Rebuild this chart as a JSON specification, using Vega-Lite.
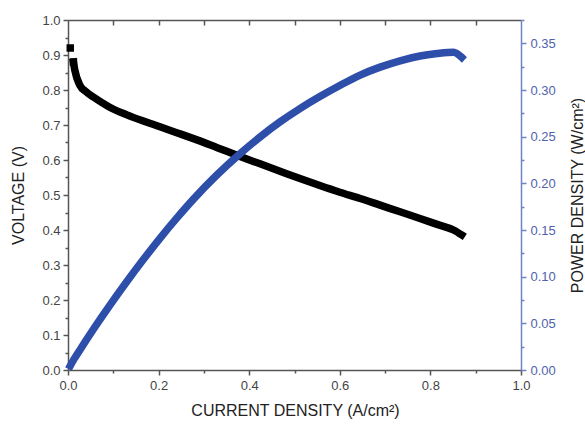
{
  "$schema": "https://vega.github.io/schema/vega-lite/v6.json",
  "width": 453,
  "height": 350,
  "autosize": "none",
  "padding": {"left": 68, "top": 20, "right": 64, "bottom": 57},
  "background": "white",
  "config": {
    "view": {"stroke": null},
    "font": "Liberation Sans",
    "axis": {"grid": false, "labelFlush": false, "labelFont": "Liberation Sans", "titleFont": "Liberation Sans", "labelFontSize": 13, "titleFontSize": 16, "titleFontWeight": "normal", "labelColor": "#444", "titleColor": "#222", "domainColor": "#555", "tickColor": "#555", "domainWidth": 1.5, "tickWidth": 1.5}
  },
  "data": {"values": [
    {"I": 0.005, "V": 0.92, "P": 0.0046},
    {"I": 0.012, "V": 0.88, "P": 0.0106},
    {"I": 0.015, "V": 0.857, "P": 0.0129},
    {"I": 0.026, "V": 0.814, "P": 0.0212},
    {"I": 0.04, "V": 0.795, "P": 0.0318},
    {"I": 0.056, "V": 0.78, "P": 0.0437},
    {"I": 0.075, "V": 0.764, "P": 0.0573},
    {"I": 0.093, "V": 0.75, "P": 0.0698},
    {"I": 0.13, "V": 0.729, "P": 0.0948},
    {"I": 0.165, "V": 0.712, "P": 0.1175},
    {"I": 0.203, "V": 0.695, "P": 0.1411},
    {"I": 0.24, "V": 0.678, "P": 0.1627},
    {"I": 0.277, "V": 0.661, "P": 0.1831},
    {"I": 0.328, "V": 0.636, "P": 0.2086},
    {"I": 0.38, "V": 0.61, "P": 0.2318},
    {"I": 0.424, "V": 0.589, "P": 0.2497},
    {"I": 0.468, "V": 0.568, "P": 0.2658},
    {"I": 0.512, "V": 0.547, "P": 0.2801},
    {"I": 0.556, "V": 0.527, "P": 0.293},
    {"I": 0.6, "V": 0.508, "P": 0.3048},
    {"I": 0.645, "V": 0.49, "P": 0.316},
    {"I": 0.689, "V": 0.471, "P": 0.3245},
    {"I": 0.733, "V": 0.452, "P": 0.3313},
    {"I": 0.777, "V": 0.433, "P": 0.3364},
    {"I": 0.815, "V": 0.416, "P": 0.339},
    {"I": 0.851, "V": 0.4, "P": 0.3404},
    {"I": 0.869, "V": 0.386, "P": 0.335}
  ]},
  "layer": [
    {
      "transform": [{"filter": "datum.I >= 0.012"}],
      "mark": {"type": "line", "color": "black", "strokeWidth": 7.5, "strokeCap": "square", "strokeJoin": "round", "interpolate": "monotone"},
      "encoding": {
        "x": {"field": "I", "type": "quantitative", "scale": {"domain": [0, 1], "nice": false, "zero": false},
              "axis": {"orient": "bottom", "values": [0, 0.2, 0.4, 0.6, 0.8, 1.0], "format": ".1f", "tickSize": 5, "labelPadding": 4, "title": "CURRENT DENSITY (A/cm²)", "titleX": 227, "titleY": 40, "titleBaseline": "middle", "titleAlign": "center"}},
        "y": {"field": "V", "type": "quantitative", "scale": {"domain": [0, 1], "nice": false},
              "axis": {"orient": "left", "values": [0, 0.1, 0.2, 0.3, 0.4, 0.5, 0.6, 0.7, 0.8, 0.9, 1.0], "format": ".1f", "tickSize": 5, "labelPadding": 3, "title": "VOLTAGE (V)", "titleX": -50, "titleY": 175, "titleAngle": -90, "titleBaseline": "middle", "titleAlign": "center"}}
      }
    },
    {
      "transform": [{"filter": "datum.I < 0.013"}],
      "mark": {"type": "square", "color": "black", "size": 56, "opacity": 1},
      "encoding": {
        "x": {"field": "I", "type": "quantitative", "scale": {"domain": [0, 1], "nice": false, "zero": false},
              "axis": {"orient": "bottom", "values": [0.1, 0.3, 0.5, 0.7, 0.9], "labels": false, "domain": false, "tickSize": 3, "title": null}},
        "y": {"field": "V", "type": "quantitative", "scale": {"domain": [0, 1], "nice": false},
              "axis": {"orient": "left", "values": [0.05, 0.15, 0.25, 0.35, 0.45, 0.55, 0.65, 0.75, 0.85, 0.95], "labels": false, "domain": false, "tickSize": 3, "title": null}}
      }
    },
    {
      "mark": {"type": "line", "color": "#2d4ea9", "strokeWidth": 7.5, "strokeCap": "square", "strokeJoin": "round", "interpolate": "monotone"},
      "encoding": {
        "x": {"field": "I", "type": "quantitative", "scale": {"domain": [0, 1], "nice": false, "zero": false},
              "axis": {"orient": "top", "values": [0.1, 0.2, 0.3, 0.4, 0.5, 0.6, 0.7, 0.8, 0.9], "labels": false, "tickSize": -5, "title": null}},
        "y": {"field": "P", "type": "quantitative", "scale": {"domain": [0, 0.375], "nice": false},
              "axis": {"orient": "right", "values": [0, 0.05, 0.1, 0.15, 0.2, 0.25, 0.3, 0.35], "format": ".2f", "tickSize": 5, "labelPadding": 4, "domainColor": "#6f82c4", "tickColor": "#6f82c4", "labelColor": "#4f62ad", "title": "POWER DENSITY (W/cm²)", "titleX": 56, "titleY": 175, "titleAngle": -90, "titleBaseline": "middle", "titleAlign": "center"}}
      }
    },
    {
      "mark": {"type": "point", "opacity": 0},
      "encoding": {
        "x": {"field": "I", "type": "quantitative", "scale": {"domain": [0, 1], "nice": false, "zero": false}, "axis": null},
        "y": {"field": "P", "type": "quantitative", "scale": {"domain": [0, 0.375], "nice": false},
              "axis": {"orient": "right", "values": [0.025, 0.075, 0.125, 0.175, 0.225, 0.275, 0.325, 0.375], "labels": false, "domain": false, "tickSize": 3, "tickColor": "#6f82c4", "title": null}}
      }
    }
  ],
  "resolve": {"scale": {"y": "independent"}, "axis": {"x": "independent", "y": "independent"}}
}
